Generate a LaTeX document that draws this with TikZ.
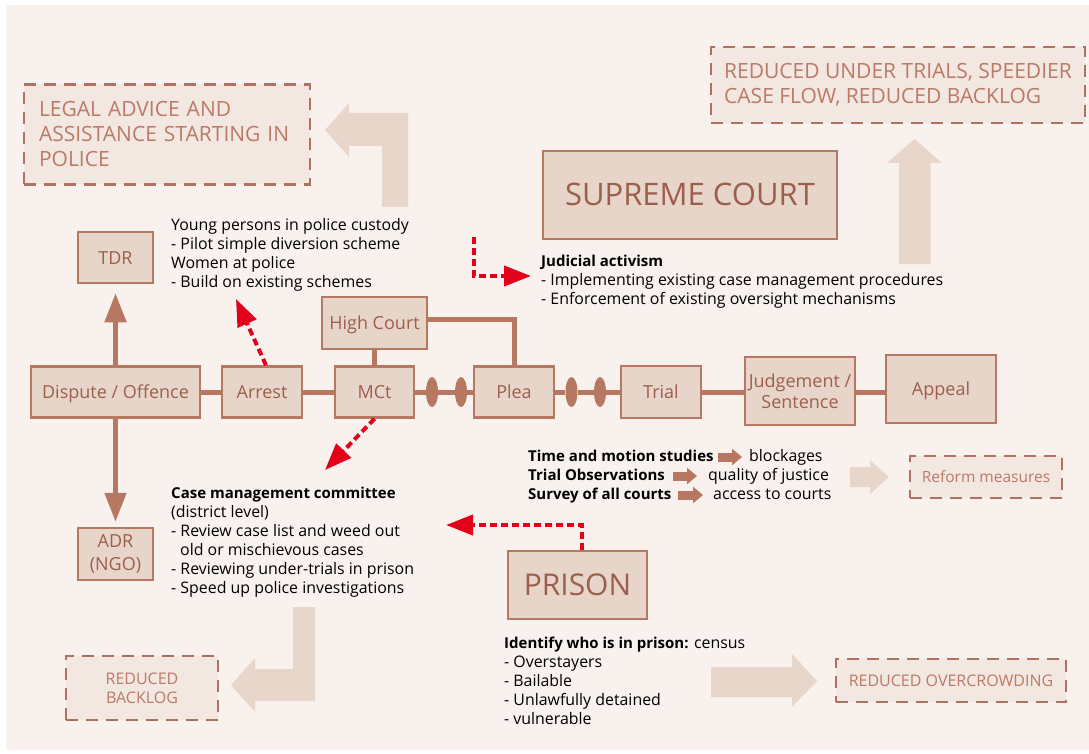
\documentclass[tikz,border=0pt]{standalone}
\usepackage{fontspec}
\setmainfont{Open Sans}
\usetikzlibrary{arrows.meta,shapes.geometric}
\definecolor{bgc}{HTML}{F9F1EE}
\definecolor{boxfill}{HTML}{E8D5CA}
\definecolor{boxline}{HTML}{B77862}
\definecolor{boxtext}{HTML}{9B5F4B}
\definecolor{dashfill}{HTML}{F3E7E2}
\definecolor{dashline}{HTML}{B07260}
\definecolor{dashtext}{HTML}{BA7A66}
\definecolor{lightarr}{HTML}{E9D6CB}
\definecolor{redc}{HTML}{E2001A}
\newcommand{\mybold}[1]{{\fontsize{15}{19}\selectfont\bfseries #1}}
\begin{document}
\begin{tikzpicture}[x=1pt,y=-1pt,
 box/.style={draw=boxline, line width=2.5pt, fill=boxfill, text=boxtext, font=\fontsize{18}{21.5}\selectfont, inner sep=0pt, align=center},
 onebox/.style={box, text height=13pt, text depth=0pt},
 dbox/.style={draw=dashline, line width=2.5pt, dash pattern=on 12pt off 8pt, fill=dashfill, text=dashtext, inner sep=0pt},
 conn/.style={draw=boxline, line width=5pt},
 bigarr/.style={draw=boxline, line width=5pt, -{Triangle[length=29pt,width=21pt]}},
 reddash/.style={draw=redc, line width=4pt, dash pattern=on 7pt off 4pt, -{Triangle[length=27pt,width=20pt]}},
 bean/.style={ellipse, fill=boxline, minimum width=12pt, minimum height=30pt, inner sep=0pt},
 txt/.style={font=\fontsize{15.9}{19}\selectfont, align=left, inner sep=0pt, anchor=north west, text=black},
 ltxt/.style={font=\fontsize{15.9}{19}\selectfont, inner sep=0pt, anchor=base west, text height=12pt, text depth=4pt, text=black},
 btxt/.style={ltxt, font=\fontsize{15}{19}\selectfont\bfseries},
 small/.style={draw=boxline, line width=9pt, -{Triangle[length=10pt,width=16pt]}},
 light/.style={fill=lightarr}
]
\useasboundingbox (0,0) rectangle (1089,754);
\fill[white] (0,0) rectangle (1089,754);
\fill[bgc] (6,5) rectangle (1089,750);

% light arrows
\fill[light] (408,207) -- (408,113) -- (349,113) -- (349,103) -- (325,130) -- (349,157) -- (349,146) -- (382,146) -- (382,207) -- cycle;
\fill[light] (899,264) -- (899,163) -- (887,163) -- (914.5,139) -- (942,163) -- (930.5,163) -- (930.5,264) -- cycle;
\fill[light] (850,467) -- (870,467) -- (870,460) -- (889,477) -- (870,494) -- (870,487) -- (850,487) -- cycle;
\fill[light] (293,607) -- (315,607) -- (315,701) -- (255,701) -- (255,712) -- (231,685) -- (255,658) -- (255,669) -- (293,669) -- cycle;
\fill[light] (711,667) -- (792,667) -- (792,654) -- (817,681) -- (792,707) -- (792,697) -- (711,697) -- cycle;

% boxes
\node[onebox, minimum width=169pt, minimum height=51pt] (disp) at (115.5,392) {Dispute / Offence};
\node[onebox, minimum width=80pt, minimum height=51pt] (arrest) at (262,392) {Arrest};
\node[onebox, minimum width=79pt, minimum height=51pt] (mct) at (374.5,392) {MCt};
\node[onebox, minimum width=105pt, minimum height=52pt] (hc) at (374.5,323) {High Court};
\node[onebox, minimum width=80pt, minimum height=51pt] (plea) at (514,392) {Plea};
\node[onebox, minimum width=80pt, minimum height=52pt] (trial) at (661,392) {Trial};
\node[box, minimum width=110pt, minimum height=68pt] (judg) at (800,391) {Judgement /\\Sentence};
\node[onebox, minimum width=110pt, minimum height=68pt] (appeal) at (941,389) {Appeal};
\node[onebox, minimum width=75pt, minimum height=51pt] (tdr) at (115.5,257.5) {TDR};
\node[box, minimum width=75pt, minimum height=52pt, font=\fontsize{18}{23}\selectfont] (adr) at (115.5,554) {ADR\\(NGO)};
\node[box, minimum width=294pt, minimum height=88pt, font=\fontsize{31}{36}\selectfont, text height=22pt, text depth=0pt] (sc) at (690,195) {SUPREME COURT};
\node[box, minimum width=139pt, minimum height=68pt, font=\fontsize{30}{36}\selectfont, text height=21.5pt, text depth=0pt] (prison) at (577.5,585) {PRISON};

\node[bean] (e1) at (432,392) {};
\node[bean] (e2) at (461,392) {};
\node[bean] (e3) at (571.5,392) {};
\node[bean] (e4) at (600,392) {};

% main connectors
\draw[conn] (disp) -- (arrest);
\draw[conn] (arrest) -- (mct);
\draw[conn] (mct) -- (e1);
\draw[conn] (e1) -- (e2);
\draw[conn] (e2) -- (plea);
\draw[conn] (plea) -- (e3);
\draw[conn] (e3) -- (e4);
\draw[conn] (e4) -- (trial);
\draw[conn] (trial.east) -- (trial.east -| judg.west);
\draw[conn] (trial.east -| judg.east) -- (trial.east -| appeal.west);
\draw[conn] (hc) -- (mct);
\draw[conn] ([yshift=4pt]hc.east) -| (plea.north);
\draw[bigarr, shorten >=9pt] (disp.north) -- (tdr.south);
\draw[bigarr, shorten >=5pt] (disp.south) -- (adr.north);

% dashed outcome boxes
\node[dbox, minimum width=286pt, minimum height=100pt, text width=256pt, align=left, font=\fontsize{21}{25}\selectfont] (legal) at (167,134.5) {LEGAL ADVICE AND\\ASSISTANCE STARTING IN\\POLICE};
\node[dbox, minimum width=374pt, minimum height=76pt, align=left, font=\fontsize{21}{25}\selectfont] (rut) at (898,85) {REDUCED UNDER TRIALS, SPEEDIER\\CASE FLOW, REDUCED BACKLOG};
\node[dbox, minimum width=152pt, minimum height=42pt, font=\fontsize{15.5}{19}\selectfont] (reform) at (986,477) {Reform measures};
\node[dbox, minimum width=152pt, minimum height=64pt, align=center, font=\fontsize{16}{19}\selectfont] (rback) at (142,688) {REDUCED\\BACKLOG};
\node[dbox, minimum width=230pt, minimum height=43pt, font=\fontsize{16}{19}\selectfont, text height=11.5pt, text depth=0pt] (rover) at (951,680.5) {REDUCED OVERCROWDING};

% text blocks
\node[txt] (young) at (171,218) {Young persons in police custody\\- Pilot simple diversion scheme\\Women at police\\- Build on existing schemes};
\node[txt] (jud) at (541,255) {\mybold{Judicial activism}\\- Implementing existing case management procedures\\- Enforcement of existing oversight mechanisms};
\node[txt] (cmc) at (171,487) {\mybold{Case management committee}\\(district level)\\- Review case list and weed out\\\hspace*{9pt}old or mischievous cases\\- Reviewing under-trials in prison\\- Speed up police investigations};
\node[txt] (ident) at (504,637) {\mybold{Identify who is in prison:} census\\- Overstayers\\- Bailable\\- Unlawfully detained\\- vulnerable};

\node[btxt] (st1) at (528,461) {Time and motion studies};
\node[ltxt] (rs1) at (749,461) {blockages};
\node[btxt] (st2) at (528,480) {Trial Observations};
\node[ltxt] (rs2) at (708,480) {quality of justice};
\node[btxt] (st3) at (528,499) {Survey of all courts};
\node[ltxt] (rs3) at (713,499) {access to courts};
\draw[small, shorten <=4pt, shorten >=7pt] (st1) -- (rs1);
\draw[small, shorten <=8pt, shorten >=11pt] (st2) -- (rs2);
\draw[small, shorten <=6pt, shorten >=10pt] (st3) -- (rs3);

% red dashed arrows
\coordinate (ra) at (236,299);
\coordinate (rb) at (325,470);
\coordinate (rc1) at (474,237);
\coordinate (rc2) at (531,276);
\coordinate (rd) at (446,525);
\draw[reddash] ([xshift=4pt]arrest.north) -- (ra);
\draw[reddash] (mct.south) -- (rb);
\draw[reddash] (rc1) |- (rc2);
\draw[reddash] ([xshift=4.5pt]prison.north) |- (rd);
\end{tikzpicture}
\end{document}
